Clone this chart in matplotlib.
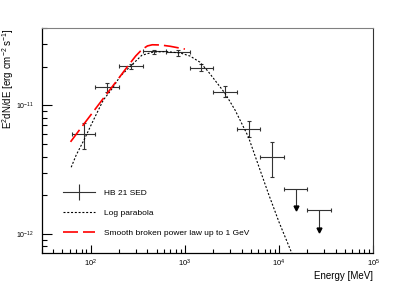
import numpy as np
import matplotlib
matplotlib.use('Agg')
import matplotlib.pyplot as plt
from matplotlib.lines import Line2D
from matplotlib import rcParams
from matplotlib.ticker import LogLocator, NullFormatter

rcParams['font.family'] = 'sans-serif'
rcParams['font.sans-serif'] = ['Liberation Sans']
rcParams['mathtext.fontset'] = 'custom'
rcParams['mathtext.rm'] = 'Liberation Sans'
rcParams['mathtext.it'] = 'Liberation Sans:italic'
rcParams['mathtext.bf'] = 'Liberation Sans:bold'

# SED points (MeV, erg cm-2 s-1)
e_center = [84.1, 149.6, 266, 473, 841, 1496, 2661, 4732, 8414]
e_low = [63.1, 112.2, 199.5, 354.8, 631, 1122, 1995, 3548, 6310]
e_high = [112.2, 199.5, 354.8, 631, 1122, 1995, 3548, 6310, 11220]
flux = [5.94e-12, 1.39e-11, 2.02e-11, 2.63e-11, 2.58e-11, 1.97e-11, 1.28e-11, 6.54e-12, 3.94e-12]
flux_hi = [7.24e-12, 1.48e-11, 2.09e-11, 2.69e-11, 2.69e-11, 2.08e-11, 1.41e-11, 7.55e-12, 5.21e-12]
flux_lo = [4.57e-12, 1.28e-11, 1.91e-11, 2.49e-11, 2.43e-11, 1.86e-11, 1.17e-11, 5.64e-12, 2.76e-12]

# upper limits
ul_center = [14962, 26607]
ul_low = [11220, 19953]
ul_high = [19953, 35481]
ul_flux = [2.22e-12, 1.54e-12]
ul_tip = [1.58e-12, 1.08e-12]

# log parabola model
lp_e = [62, 70, 85, 107, 136, 170, 205, 261, 348, 462, 640, 900, 1132, 1440, 1770,
        2667, 3404, 4710, 6000, 7674, 10000, 13610, 16000]
lp_f = [3.3e-12, 4.1e-12, 5.4e-12, 7.7e-12, 1.1e-11, 1.36e-11, 1.68e-11, 2.0e-11, 2.45e-11,
        2.6e-11, 2.62e-11, 2.55e-11, 2.42e-11, 2.17e-11, 1.83e-11, 1.24e-11, 9.2e-12,
        5.7e-12, 3.45e-12, 2.07e-12, 1.23e-12, 7.1e-13, 5.1e-13]

# smooth broken power law up to 1 GeV
sb_e = [61, 80, 100, 150, 200, 250, 300, 350, 400, 450, 550, 700, 1000]
sb_f = [5.2e-12, 6.78e-12, 8.41e-12, 1.245e-11, 1.64e-11, 2.04e-11, 2.42e-11, 2.72e-11,
        2.9e-11, 2.96e-11, 2.95e-11, 2.88e-11, 2.74e-11]

fig = plt.figure(figsize=(4.15, 2.82), dpi=100)
ax = fig.add_axes([0.1, 0.1028, 0.7995, 0.798])

ec = '0.2'
xerr = [np.subtract(e_center, e_low), np.subtract(e_high, e_center)]
yerr = [np.subtract(flux, flux_lo), np.subtract(flux_hi, flux)]
ax.errorbar(e_center, flux, xerr=xerr, yerr=yerr, fmt='none', ecolor=ec,
            elinewidth=0.8, capsize=1.2, capthick=0.8)

uxerr = [np.subtract(ul_center, ul_low), np.subtract(ul_high, ul_center)]
ax.errorbar(ul_center, ul_flux, xerr=uxerr, fmt='none', ecolor=ec,
            elinewidth=0.8, capsize=1.2, capthick=0.8)
ax.vlines(ul_center, ul_tip, ul_flux, color=ec, lw=0.8)
ax.plot(ul_center, ul_tip, ls='none', marker='v', ms=3.5, color='k')

ax.plot(lp_e, lp_f, color='k', lw=0.8, dashes=(1.8, 1.6))
ax.plot(sb_e, sb_f, color='red', lw=1.2, dashes=(9, 3))

ax.set_xscale('log')
ax.set_yscale('log')
ax.set_xlim(30, 1e5)
ax.set_ylim(7.1e-13, 4e-11)

ax.yaxis.set_minor_locator(LogLocator(base=10, subs=np.arange(2, 10), numticks=20))
ax.yaxis.set_minor_formatter(NullFormatter())
ax.xaxis.set_minor_formatter(NullFormatter())
ax.tick_params(which='both', direction='in', top=False, right=False)
ax.tick_params(axis='y', which='major', length=7, width=0.8, pad=5.5, labelsize=5)
ax.tick_params(axis='y', which='minor', length=3.5, width=0.8)
ax.tick_params(axis='x', which='major', length=6, width=0.8, pad=3.5, labelsize=5.5)
ax.tick_params(axis='x', which='minor', length=3, width=0.8)

for s in ['left', 'bottom']:
    ax.spines[s].set_linewidth(0.9)
ax.spines['top'].set_color('0.5')
ax.spines['right'].set_color('0.2')

ax.set_ylabel(r'E$^{2}$dN/dE [erg cm$^{-2}$ s$^{-1}$]', fontsize=7, loc='top')
ax.yaxis.set_label_coords(-0.076, 1.0)
ax.set_xlabel('Energy [MeV]', fontsize=7, loc='right')
ax.xaxis.set_label_coords(1.0, -0.079)

handles = [
    Line2D([], [], color=ec, lw=0.8, marker='|', ms=11, mew=0.8),
    Line2D([], [], color='k', lw=0.8, dashes=(1.8, 1.6)),
    Line2D([], [], color='red', lw=1.2, dashes=(9, 3)),
]
labels = ['HB 21 SED', 'Log parabola', 'Smooth broken power law up to 1 GeV']
ax.legend(handles, labels, loc='lower left', bbox_to_anchor=(0.066, 0.07),
          frameon=False, fontsize=6, handlelength=3.8, handletextpad=1.1,
          labelspacing=1.5, borderpad=0, borderaxespad=0)

fig.savefig('out.png', dpi=100)
